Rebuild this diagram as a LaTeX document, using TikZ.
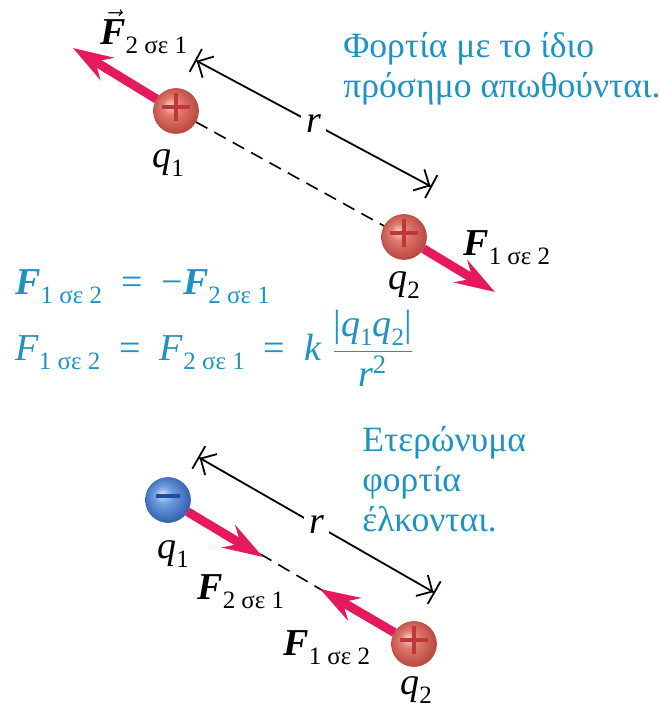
\documentclass[tikz,border=0pt]{standalone}
\usepackage{amsmath}
\usepackage{fontspec}
\setmainfont{Liberation Serif}
\usepackage{tikz}
\usetikzlibrary{arrows.meta,calc,positioning}
\definecolor{forcered}{HTML}{E5195B}
\definecolor{eqblue}{HTML}{1C93C4}
\definecolor{redhi}{HTML}{F7CFC8}
\definecolor{redmid}{HTML}{E07A6E}
\definecolor{redrim}{HTML}{B8453D}
\definecolor{bluehi}{HTML}{CFE0F8}
\definecolor{bluemid}{HTML}{6E9DE0}
\definecolor{bluerim}{HTML}{2F5EAE}
\definecolor{plusred}{HTML}{C0363E}
\definecolor{minusblue}{HTML}{1D4C9C}
\pgfdeclareradialshading{redball}{\pgfpoint{-7bp}{7bp}}{color(0bp)=(redhi);color(10bp)=(redmid);color(28bp)=(redrim);color(40bp)=(redrim)}
\pgfdeclareradialshading{blueball}{\pgfpoint{-7bp}{7bp}}{color(0bp)=(bluehi);color(10bp)=(bluemid);color(28bp)=(bluerim);color(40bp)=(bluerim)}
\newcommand{\Fb}{\textbf{\textit{F}}}
\newcommand{\lowidx}[1]{\raisebox{-4.5pt}{\fontsize{12.5}{13}\selectfont #1}}

\begin{document}
\begin{tikzpicture}[x=0.5pt,y=-0.5pt,
  lbl/.style={anchor=base west,inner sep=0pt,font=\fontsize{19}{22}\selectfont},
  note/.style={anchor=north west,inner sep=0pt,align=left,text=eqblue,font=\fontsize{17.8}{20}\selectfont},
  posq/.style={circle,inner sep=0pt,minimum size=22.5pt,shading=redball,draw=redrim,line width=0.3pt,
    path picture={\draw[plusred,line width=1.9pt] ([yshift=2pt]path picture bounding box.center) +(-7pt,0) -- +(7pt,0) +(0,-7pt) -- +(0,7pt);}},
  negq/.style={circle,inner sep=0pt,minimum size=22.5pt,shading=blueball,draw=bluerim,line width=0.3pt,
    path picture={\draw[minusblue,line width=2pt] ([yshift=2pt]path picture bounding box.center) +(-6pt,0) -- +(6pt,0);}},
  force/.style={forcered,line width=4.5pt,-{Stealth[length=20pt,width=13pt,inset=7pt]}},
  dashline/.style={line width=0.8pt,dash pattern=on 6.5pt off 4pt},
  dim/.style={line width=0.9pt,{Bar[width=13pt]Straight Barb[length=6pt,width=12pt]}-{Straight Barb[length=6pt,width=12pt]Bar[width=13pt]}},
  rlbl/.style={fill=white,inner sep=2.5pt,font=\fontsize{19}{22}\selectfont},
]
\useasboundingbox (0,0) rectangle (659,710);

% TOP PANEL: LIKE CHARGES
\node[posq] (q1) at (176,111) {};
\node[posq] (q2) at (404,237) {};
\coordinate (tipA) at (73,48);
\coordinate (tipB) at (495,292);
\coordinate (rA) at (195,60);
\coordinate (rB) at (432,187);
\draw[dashline] (q1) -- (q2);
\draw[force] (q1) -- (tipA);
\draw[force] (q2) -- (tipB);
\draw[dim] (rA) -- (rB) node[pos=0.5,rlbl] (rtop) {\textit{r}};
\node[lbl] (ftop) at (100,45) {$\vec{\text{\Fb}}$\lowidx{2 σε 1}};
\node[lbl] (fright) at (463,256) {\Fb\lowidx{1 σε 2}};
\node[lbl] (lq1) at (152,168) {\textit{q}\lowidx{1}};
\node[lbl] (lq2) at (388,290) {\textit{q}\lowidx{2}};
\node[note] (like) at (343,32) {Φορτία με το ίδιο\\πρόσημο απωθούνται.};

% EQUATIONS
\node[lbl,text=eqblue] (eqone) at (15,295) {\Fb\lowidx{1 σε 2}\enspace=\enspace−\Fb\lowidx{2 σε 1}};
\node[lbl,text=eqblue] (eqtwo) at (15,360) {\textit{F}\lowidx{1 σε 2}\enspace=\enspace\textit{F}\lowidx{2 σε 1}\enspace=\enspace\textit{k}\ $\dfrac{\text{|\textit{q}\lowidx{1}\textit{q}\lowidx{2}|}}{\text{\textit{r}\textsuperscript{2}}}$};

% BOTTOM PANEL: UNLIKE CHARGES
\node[negq] (p1) at (168,500) {};
\node[posq] (p2) at (414,644) {};
\coordinate (tipC) at (263,557);
\coordinate (tipD) at (320,589);
\coordinate (sA) at (198,457);
\coordinate (sB) at (435,593);
\draw[dashline] (p1) -- (p2);
\draw[force] (p1) -- (tipC);
\draw[force] (p2) -- (tipD);
\draw[dim] (sA) -- (sB) node[pos=0.5,rlbl] (rbot) {\textit{r}};
\node[lbl] (lp1) at (157,558) {\textit{q}\lowidx{1}};
\node[lbl] (fleft) at (197,599) {\Fb\lowidx{2 σε 1}};
\node[lbl] (fbot) at (283,655) {\Fb\lowidx{1 σε 2}};
\node[lbl] (lp2) at (400,694) {\textit{q}\lowidx{2}};
\node[note] (unlike) at (362,426) {Ετερώνυμα\\φορτία\\έλκονται.};
\end{tikzpicture}
\end{document}
